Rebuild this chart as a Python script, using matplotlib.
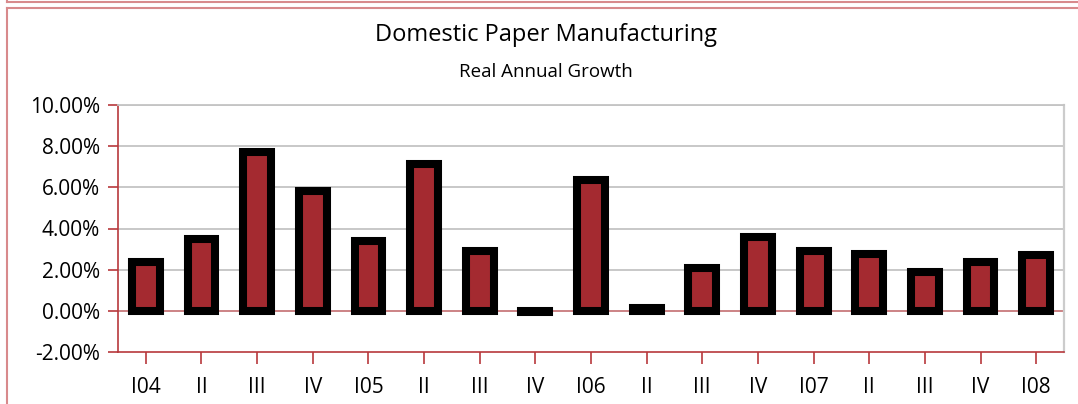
import matplotlib
matplotlib.use("Agg")
import matplotlib.pyplot as plt
from matplotlib.lines import Line2D
from matplotlib.ticker import FuncFormatter

# Données (croissance réelle annuelle, en %)
quarters = ["I04", "II", "III", "IV", "I05", "II", "III", "IV", "I06",
            "II", "III", "IV", "I07", "II", "III", "IV", "I08"]
growth = [2.35, 3.50, 7.72, 5.80, 3.41, 7.13, 2.93, -0.08, 6.36,
          0.15, 2.08, 3.60, 2.92, 2.78, 1.88, 2.35, 2.72]
y_ticks = [-2, 0, 2, 4, 6, 8, 10]

plt.rcParams["font.family"] = ["Open Sans", "DejaVu Sans"]

red_axis = "#B8383C"
frame_red = "#D88A8C"
bar_red = "#A42A30"

fig = plt.figure(figsize=(10.78, 4.04), dpi=100)
ax = fig.add_axes([118 / 1078, 1 - 352 / 404, (1064 - 118) / 1078, (352 - 105) / 404])

x = list(range(len(quarters)))
ax.bar(x, growth, width=0.5, color=bar_red, edgecolor="black", linewidth=5.8, zorder=3)

ax.set_xlim(-0.5, len(quarters) - 0.5)
ax.set_ylim(-2, 10)
ax.set_yticks(y_ticks)
ax.yaxis.set_major_formatter(FuncFormatter(lambda v, p: f"{v:.2f}%"))
ax.set_xticks(x)
ax.set_xticklabels(quarters)

# grille et ligne du zéro
for v in y_ticks[2:]:
    ax.axhline(v, color="#C4C4C4", linewidth=1.3, zorder=1)
ax.axhline(0, color="#C87A7C", linewidth=1.3, zorder=2)

ax.spines["left"].set_color(red_axis)
ax.spines["bottom"].set_color(red_axis)
ax.spines["left"].set_linewidth(1.2)
ax.spines["bottom"].set_linewidth(1.2)
ax.spines["right"].set_color("#CCCCCC")
ax.spines["right"].set_linewidth(1.6)
ax.spines["top"].set_color("#C4C4C4")
ax.spines["top"].set_linewidth(1.3)

ax.tick_params(axis="y", direction="out", length=7, width=1.2, color=red_axis,
               labelsize=15, pad=6)
ax.tick_params(axis="x", direction="out", length=8.5, width=1.2, color=red_axis,
               labelsize=15, pad=9.5)

# titres
fig.text(546 / 1078, 1 - 35 / 404, "Domestic Paper Manufacturing", ha="center",
         va="center", fontsize=17)
fig.text(546 / 1078, 1 - 72 / 404, "Real Annual Growth", ha="center",
         va="center", fontsize=13.5)

# cadre extérieur rouge
fig.add_artist(Line2D([7 / 1078, 1], [1 - 1.5 / 404, 1 - 1.5 / 404], color=frame_red, linewidth=1.5))
fig.add_artist(Line2D([7 / 1078, 7 / 1078], [1 - 1.5 / 404, 1], color=frame_red, linewidth=1.5))
fig.add_artist(Line2D([7 / 1078, 1], [1 - 7.5 / 404, 1 - 7.5 / 404], color=frame_red, linewidth=1.5))
fig.add_artist(Line2D([7 / 1078, 7 / 1078], [0, 1 - 7.5 / 404], color=frame_red, linewidth=1.5))

plt.savefig("out.png", dpi=100)
